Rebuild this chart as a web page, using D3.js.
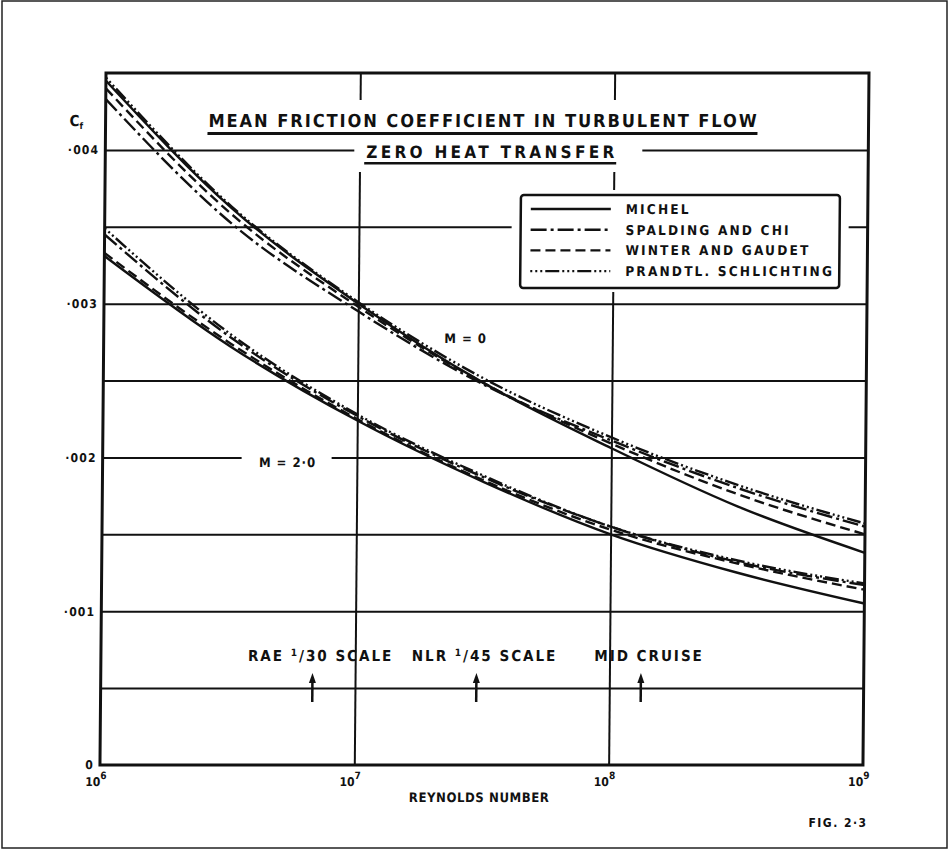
<!DOCTYPE html>
<html>
<head>
<meta charset="utf-8">
<script src="https://cdn.jsdelivr.net/npm/d3@7/dist/d3.min.js"></script>
<style>
  body { margin: 0; background: #fff; }
  text { font-family: "DejaVu Sans Condensed", "DejaVu Sans", sans-serif; font-weight: bold; fill: #111; }
</style>
</head>
<body>
<svg id="chart"></svg>
<script>
// Reynolds numbers the curves were read at (half decades)
const reynolds = [1e6, 3.162e6, 1e7, 3.162e7, 1e8, 3.162e8, 1e9];

// M = 0
const michelM0   = [0.00445, 0.00362, 0.00300, 0.00248, 0.00206, 0.00168, 0.00138];
const spaldingM0 = [0.00433, 0.00352, 0.00295, 0.00247, 0.00211, 0.00180, 0.00155];
const winterM0   = [0.00440, 0.00358, 0.00298, 0.00248, 0.00209, 0.00176, 0.00150];
const prandtlM0  = [0.00447, 0.00363, 0.00301, 0.00251, 0.00213, 0.00182, 0.00157];

// M = 2.0
const michelM2   = [0.00331, 0.00272, 0.00224, 0.00184, 0.00150, 0.00125, 0.00105];
const spaldingM2 = [0.00345, 0.00278, 0.00227, 0.00187, 0.00155, 0.00132, 0.00117];
const winterM2   = [0.00333, 0.00274, 0.00225, 0.00185, 0.00153, 0.00131, 0.00114];
const prandtlM2  = [0.00349, 0.00280, 0.00228, 0.00188, 0.00155, 0.00133, 0.00118];

const seriesNames = ['MICHEL', 'SPALDING AND CHI', 'WINTER AND GAUDET', 'PRANDTL. SCHLICHTING'];

const yTicks = [0, 0.001, 0.002, 0.003, 0.004];
const yTickLabels = ['0', '·001', '·002', '·003', '·004'];
const yGridValues = [0.0005, 0.001, 0.0015, 0.002, 0.0025, 0.003, 0.0035, 0.004];
const xTicks = [1e6, 1e7, 1e8, 1e9];
const xTickExponents = ['6', '7', '8', '9'];

// model-scale / flight markers along the Reynolds axis
const markerRe = [6.8e6, 3.0e7, 1.33e8];
const markerLabels = [['RAE ', '1', '/30 SCALE'], ['NLR ', '1', '/45 SCALE'], ['MID CRUISE', '', '']];

const machLabels = ['M = 0', 'M = 2·0'];

class FrictionChart {

  constructor(_config) {
    this.config = {
      parentElement: _config.parentElement,
      containerWidth: 950,
      containerHeight: 857,
      margin: { top: 73, left: 106, right: 81, bottom: 92 }
    };
    this.initVis();
  }

  initVis() {
    let vis = this;
    const m = vis.config.margin;
    vis.width = vis.config.containerWidth - m.left - m.right;
    vis.height = vis.config.containerHeight - m.top - m.bottom;

    vis.xScale = d3.scaleLog().domain([1e6, 1e9]).range([0, vis.width]);
    vis.yScale = d3.scaleLinear().domain([0, 0.0045]).range([vis.height, 0]);

    vis.svg = d3.select(vis.config.parentElement)
      .attr('width', vis.config.containerWidth)
      .attr('height', vis.config.containerHeight);

    // page border of the scanned sheet
    vis.svg.append('rect')
      .attr('x', 2).attr('y', 1)
      .attr('width', 945).attr('height', 847)
      .attr('fill', 'none').attr('stroke', '#222').attr('stroke-width', 1.5);

    vis.svg.append('text')
      .attr('x', 838).attr('y', 827)
      .attr('text-anchor', 'middle')
      .style('font-size', '12px').style('letter-spacing', '1.5px')
      .text('FIG. 2·3');

    // the scan leans a little: shear the whole figure
    vis.page = vis.svg.append('g')
      .attr('transform', `translate(0,${m.top}) skewX(-0.5) translate(0,${-m.top})`);

    vis.chart = vis.page.append('g')
      .attr('transform', `translate(${m.left},${m.top})`);

    vis.renderVis();
  }

  renderVis() {
    let vis = this;
    const m = vis.config.margin;

    // grid
    vis.chart.append('g')
      .attr('class', 'grid y-grid')
      .call(d3.axisLeft(vis.yScale).tickValues(yGridValues).tickSize(-vis.width).tickFormat(''))
      .call(g => g.select('.domain').remove())
      .call(g => g.selectAll('line').attr('stroke', '#111').attr('stroke-width', 2));

    vis.chart.append('g')
      .attr('class', 'grid x-grid')
      .attr('transform', `translate(0,${vis.height})`)
      .call(d3.axisBottom(vis.xScale).tickValues([1e7, 1e8]).tickSize(-vis.height).tickFormat(''))
      .call(g => g.select('.domain').remove())
      .call(g => g.selectAll('line').attr('stroke', '#111').attr('stroke-width', 2));

    // white patches where the lettering interrupts the grid
    const masks = [[205, 100, 555, 40], [355, 140, 288, 32], [245, 450, 90, 22], [513, 190, 337, 102]];
    vis.page.selectAll('.mask').data(masks).join('rect')
      .attr('class', 'mask')
      .attr('x', d => d[0]).attr('y', d => d[1])
      .attr('width', d => d[2]).attr('height', d => d[3])
      .attr('fill', '#fff');

    // curves
    const styles = ['none', '16,4,3,4', '10,5', '2,3,2,3,2,3,14,3'];
    const groups = [
      [michelM0, spaldingM0, winterM0, prandtlM0],
      [michelM2, spaldingM2, winterM2, prandtlM2]
    ];
    const line = d3.line()
      .x(d => vis.xScale(d.re))
      .y(d => vis.yScale(d.cf))
      .curve(d3.curveMonotoneX);

    groups.forEach(group => {
      group.forEach((values, i) => {
        vis.chart.append('path')
          .datum(values.map((cf, j) => ({ re: reynolds[j], cf: cf })))
          .attr('fill', 'none')
          .attr('stroke', '#111')
          .attr('stroke-width', 2.4)
          .attr('stroke-dasharray', styles[i])
          .attr('d', line);
      });
    });

    // frame
    vis.chart.append('rect')
      .attr('width', vis.width).attr('height', vis.height)
      .attr('fill', 'none').attr('stroke', '#111').attr('stroke-width', 3);

    // y labels
    vis.chart.append('g')
      .attr('class', 'axis y-axis')
      .call(d3.axisLeft(vis.yScale).tickValues(yTicks).tickSize(0).tickPadding(6)
        .tickFormat((d, i) => yTickLabels[i]))
      .call(g => g.select('.domain').remove())
      .call(g => g.selectAll('text').attr('font-family', null).style('font-size', '12px')
        .style('letter-spacing', '1.2px'));

    vis.page.append('text')
      .attr('x', 70).attr('y', 126)
      .style('font-size', '15px')
      .text('C')
      .append('tspan').attr('dy', 3).style('font-size', '9px').text('f');

    // x labels with exponents
    const xl = vis.chart.selectAll('.x-label').data(xTicks).join('text')
      .attr('class', 'x-label')
      .attr('x', d => vis.xScale(d) - 4)
      .attr('y', vis.height + 21)
      .attr('text-anchor', 'middle')
      .style('font-size', '12px');
    xl.append('tspan').text('10');
    xl.append('tspan').attr('dy', -7).style('font-size', '10px').text((d, i) => xTickExponents[i]);

    vis.chart.append('text')
      .attr('x', vis.width / 2 - 2)
      .attr('y', vis.height + 37)
      .attr('text-anchor', 'middle')
      .style('font-size', '13px').style('letter-spacing', '0.6px')
      .text('REYNOLDS NUMBER');

    // titles
    vis.page.append('text')
      .attr('x', 209).attr('y', 127)
      .attr('textLength', 548).attr('lengthAdjust', 'spacing')
      .style('font-size', '18px')
      .text('MEAN FRICTION COEFFICIENT IN TURBULENT FLOW');
    vis.page.append('rect').attr('x', 208).attr('y', 132).attr('width', 550).attr('height', 3).attr('fill', '#111');

    vis.page.append('text')
      .attr('x', 367).attr('y', 158)
      .attr('textLength', 248).attr('lengthAdjust', 'spacing')
      .style('font-size', '17px')
      .text('ZERO HEAT TRANSFER');
    vis.page.append('rect').attr('x', 365).attr('y', 162).attr('width', 252).attr('height', 2.5).attr('fill', '#111');

    // Mach labels
    vis.page.append('text')
      .attr('x', 468).attr('y', 343).attr('text-anchor', 'middle')
      .style('font-size', '13px').style('letter-spacing', '1px')
      .text(machLabels[0]);
    vis.page.append('text')
      .attr('x', 291).attr('y', 467).attr('text-anchor', 'middle')
      .style('font-size', '13px').style('letter-spacing', '1px')
      .text(machLabels[1]);

    // marker arrows and labels
    const mk = vis.chart.selectAll('.marker').data(markerRe).join('g')
      .attr('class', 'marker')
      .attr('transform', d => `translate(${vis.xScale(d)},0)`);
    mk.append('line')
      .attr('y1', 680 - m.top).attr('y2', 702 - m.top)
      .attr('stroke', '#111').attr('stroke-width', 2.5);
    mk.append('path')
      .attr('d', `M0,${673 - m.top} L-3.5,${683 - m.top} L3.5,${683 - m.top} Z`)
      .attr('fill', '#111');
    const mt = mk.append('text')
      .attr('x', 8).attr('y', 661 - m.top)
      .attr('text-anchor', 'middle')
      .style('font-size', '15px').style('letter-spacing', '2px');
    mt.append('tspan').text((d, i) => markerLabels[i][0]);
    mt.append('tspan').attr('dy', -5).style('font-size', '10px').text((d, i) => markerLabels[i][1]);
    mt.append('tspan').attr('dy', (d, i) => markerLabels[i][1] ? 5 : 0).text((d, i) => markerLabels[i][2]);

    // legend
    const lg = vis.page.append('g').attr('transform', 'translate(522,195)');
    lg.append('rect')
      .attr('width', 319).attr('height', 93).attr('rx', 3)
      .attr('fill', '#fff').attr('stroke', '#111').attr('stroke-width', 2.5);
    const rows = lg.selectAll('.legend-row').data(seriesNames).join('g')
      .attr('class', 'legend-row')
      .attr('transform', (d, i) => `translate(0,${14 + i * 20.7})`);
    rows.append('line')
      .attr('x1', 10).attr('x2', 90)
      .attr('stroke', '#111').attr('stroke-width', 2.4)
      .attr('stroke-dasharray', (d, i) => styles[i]);
    rows.append('text')
      .attr('x', 105).attr('y', 5)
      .style('font-size', '13.5px').style('letter-spacing', '2.2px')
      .text(d => d);
  }
}

new FrictionChart({ parentElement: '#chart' });
</script>
</body>
</html>
